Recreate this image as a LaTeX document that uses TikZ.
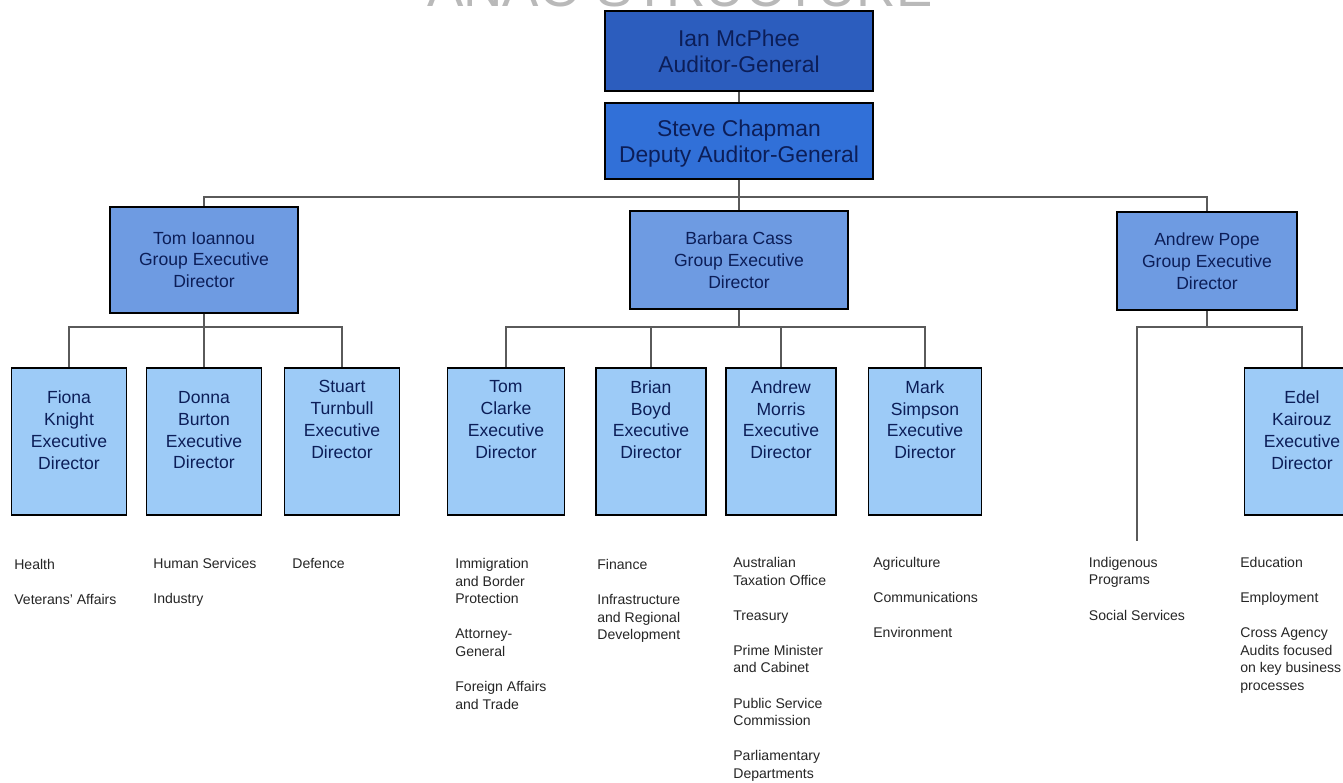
\documentclass[tikz,border=0pt]{standalone}
\usepackage{fontspec}
\setmainfont{Liberation Sans}
\usetikzlibrary{
  backgrounds
}
\usepackage{xcolor}
\definecolor{agblue}{HTML}{2C5DBE}
\definecolor{deputyblue}{HTML}{3170D8}
\definecolor{groupblue}{HTML}{6E9BE2}
\definecolor{execblue}{HTML}{9DCBF7}
\definecolor{boxtext}{HTML}{0C1E58}
\definecolor{linkgray}{HTML}{5A5A5A}

\begin{document}
\begin{tikzpicture}[
  x=0.02cm, y=-0.02cm,
  top_box/.style={
    draw,
    line width=1.1pt,
    minimum width=5.36cm,
    align=center,
    text=boxtext,
    text depth=0pt,
    font=\fontsize{13}{15}\selectfont,
  },
  group_box/.style={
    draw,
    line width=1.1pt,
    fill=groupblue,
    minimum height=1.96cm,
    align=center,
    text=boxtext,
    font=\fontsize{10}{12.4}\selectfont,
  },
  exec_box/.style={
    draw,
    line width=1.1pt,
    fill=execblue,
    minimum width=2.3cm,
    minimum height=2.94cm,
    text depth=25pt,
    align=center,
    text=boxtext,
    font=\fontsize{10}{12.4}\selectfont,
  },
  dept_list/.style={
    anchor=north west,
    align=left,
    inner sep=0pt,
    text=black!85,
    font=\fontsize{8}{10}\selectfont,
  },
  link_line/.style={draw=linkgray, line width=1pt},
  ]

  \path[use as bounding box] (0,0) rectangle (1343,783);
  \clip (0,0) rectangle (1343,783);

  \begin{scope}[on background layer]
    \fill[white] (current bounding box.south west) rectangle (current bounding box.north east);
  \end{scope}

  \node[font=\fontsize{31}{31}\selectfont, text=gray!55, anchor=base] (title) at (680,7) {ANAO STRUCTURE};

  % top of the office
  \node[top_box, fill=agblue, minimum height=1.6cm] (mcphee) at (739,51) {Ian McPhee\\Auditor-General};
  \node[top_box, fill=deputyblue, minimum height=1.52cm] (chapman) at (739,141) {Steve Chapman\\Deputy Auditor-General};

  % groups
  \node[group_box, minimum width=3.76cm, minimum height=2.12cm] (ioannou) at (204,260) {Tom Ioannou\\Group Executive\\Director};
  \node[group_box, minimum width=4.36cm] (cass) at (739,260) {Barbara Cass\\Group Executive\\Director};
  \node[group_box, minimum width=3.6cm] (pope) at (1207,261) {Andrew Pope\\Group Executive\\Director};

  % executive directors
  \node[exec_box, text depth=13pt] (knight) at (69,441.5) {Fiona\\Knight\\Executive\\Director};
  \node[exec_box, text depth=13pt] (burton) at (204,441.5) {Donna\\Burton\\Executive\\Director};
  \node[exec_box] (turnbull) at (342,441.5) {Stuart\\Turnbull\\Executive\\Director};
  \node[exec_box, minimum width=2.34cm] (clarke) at (506,441.5) {Tom\\Clarke\\Executive\\Director};
  \node[exec_box, minimum width=2.2cm] (boyd) at (651,441.5) {Brian\\Boyd\\Executive\\Director};
  \node[exec_box, minimum width=2.2cm] (morris) at (781,441.5) {Andrew\\Morris\\Executive\\Director};
  \node[exec_box, minimum width=2.26cm] (simpson) at (925,441.5) {Mark\\Simpson\\Executive\\Director};
  \node[exec_box, text depth=13pt] (kairouz) at (1302,441.5) {Edel\\Kairouz\\Executive\\Director};

  % portfolios
  \node[dept_list] (health) at (14,559) {Health\\[10pt]Veterans' Affairs};
  \node[dept_list] (humanservices) at (153,558) {Human Services\\[10pt]Industry};
  \node[dept_list] (defence) at (292,558) {Defence};
  \node[dept_list] (immigration) at (455,558) {Immigration\\and Border\\Protection\\[10pt]Attorney-\\General\\[10pt]Foreign Affairs\\and Trade};
  \node[dept_list] (finance) at (597,559) {Finance\\[10pt]Infrastructure\\and Regional\\Development};
  \node[dept_list] (taxation) at (733,557) {Australian\\Taxation Office\\[10pt]Treasury\\[10pt]Prime Minister\\and Cabinet\\[10pt]Public Service\\Commission\\[10pt]Parliamentary\\Departments};
  \node[dept_list] (agriculture) at (873,557) {Agriculture\\[10pt]Communications\\[10pt]Environment};
  \node[dept_list, anchor=north, inner ysep=9pt] (indigenous) at (1137,541) {Indigenous\\Programs\\[10pt]Social Services};
  \node[dept_list] (education) at (1240,557) {Education\\[10pt]Employment\\[10pt]Cross Agency\\Audits focused\\on key business\\processes};

  % reporting lines
  \draw[link_line] (mcphee) -- (chapman);
  \foreach \grp in {ioannou, cass, pope}
    \draw[link_line] (chapman.south) -- ++(0,17) -| (\grp.north);
  \foreach \kid in {knight, burton, turnbull}
    \draw[link_line] (ioannou.south) -- ++(0,13) -| (\kid.north);
  \foreach \kid in {clarke, boyd, morris, simpson}
    \draw[link_line] (cass.south) -- ++(0,17) -| (\kid.north);
  \foreach \kid in {indigenous, kairouz}
    \draw[link_line] (pope.south) -- ++(0,16) -| (\kid.north);

\end{tikzpicture}
\end{document}
